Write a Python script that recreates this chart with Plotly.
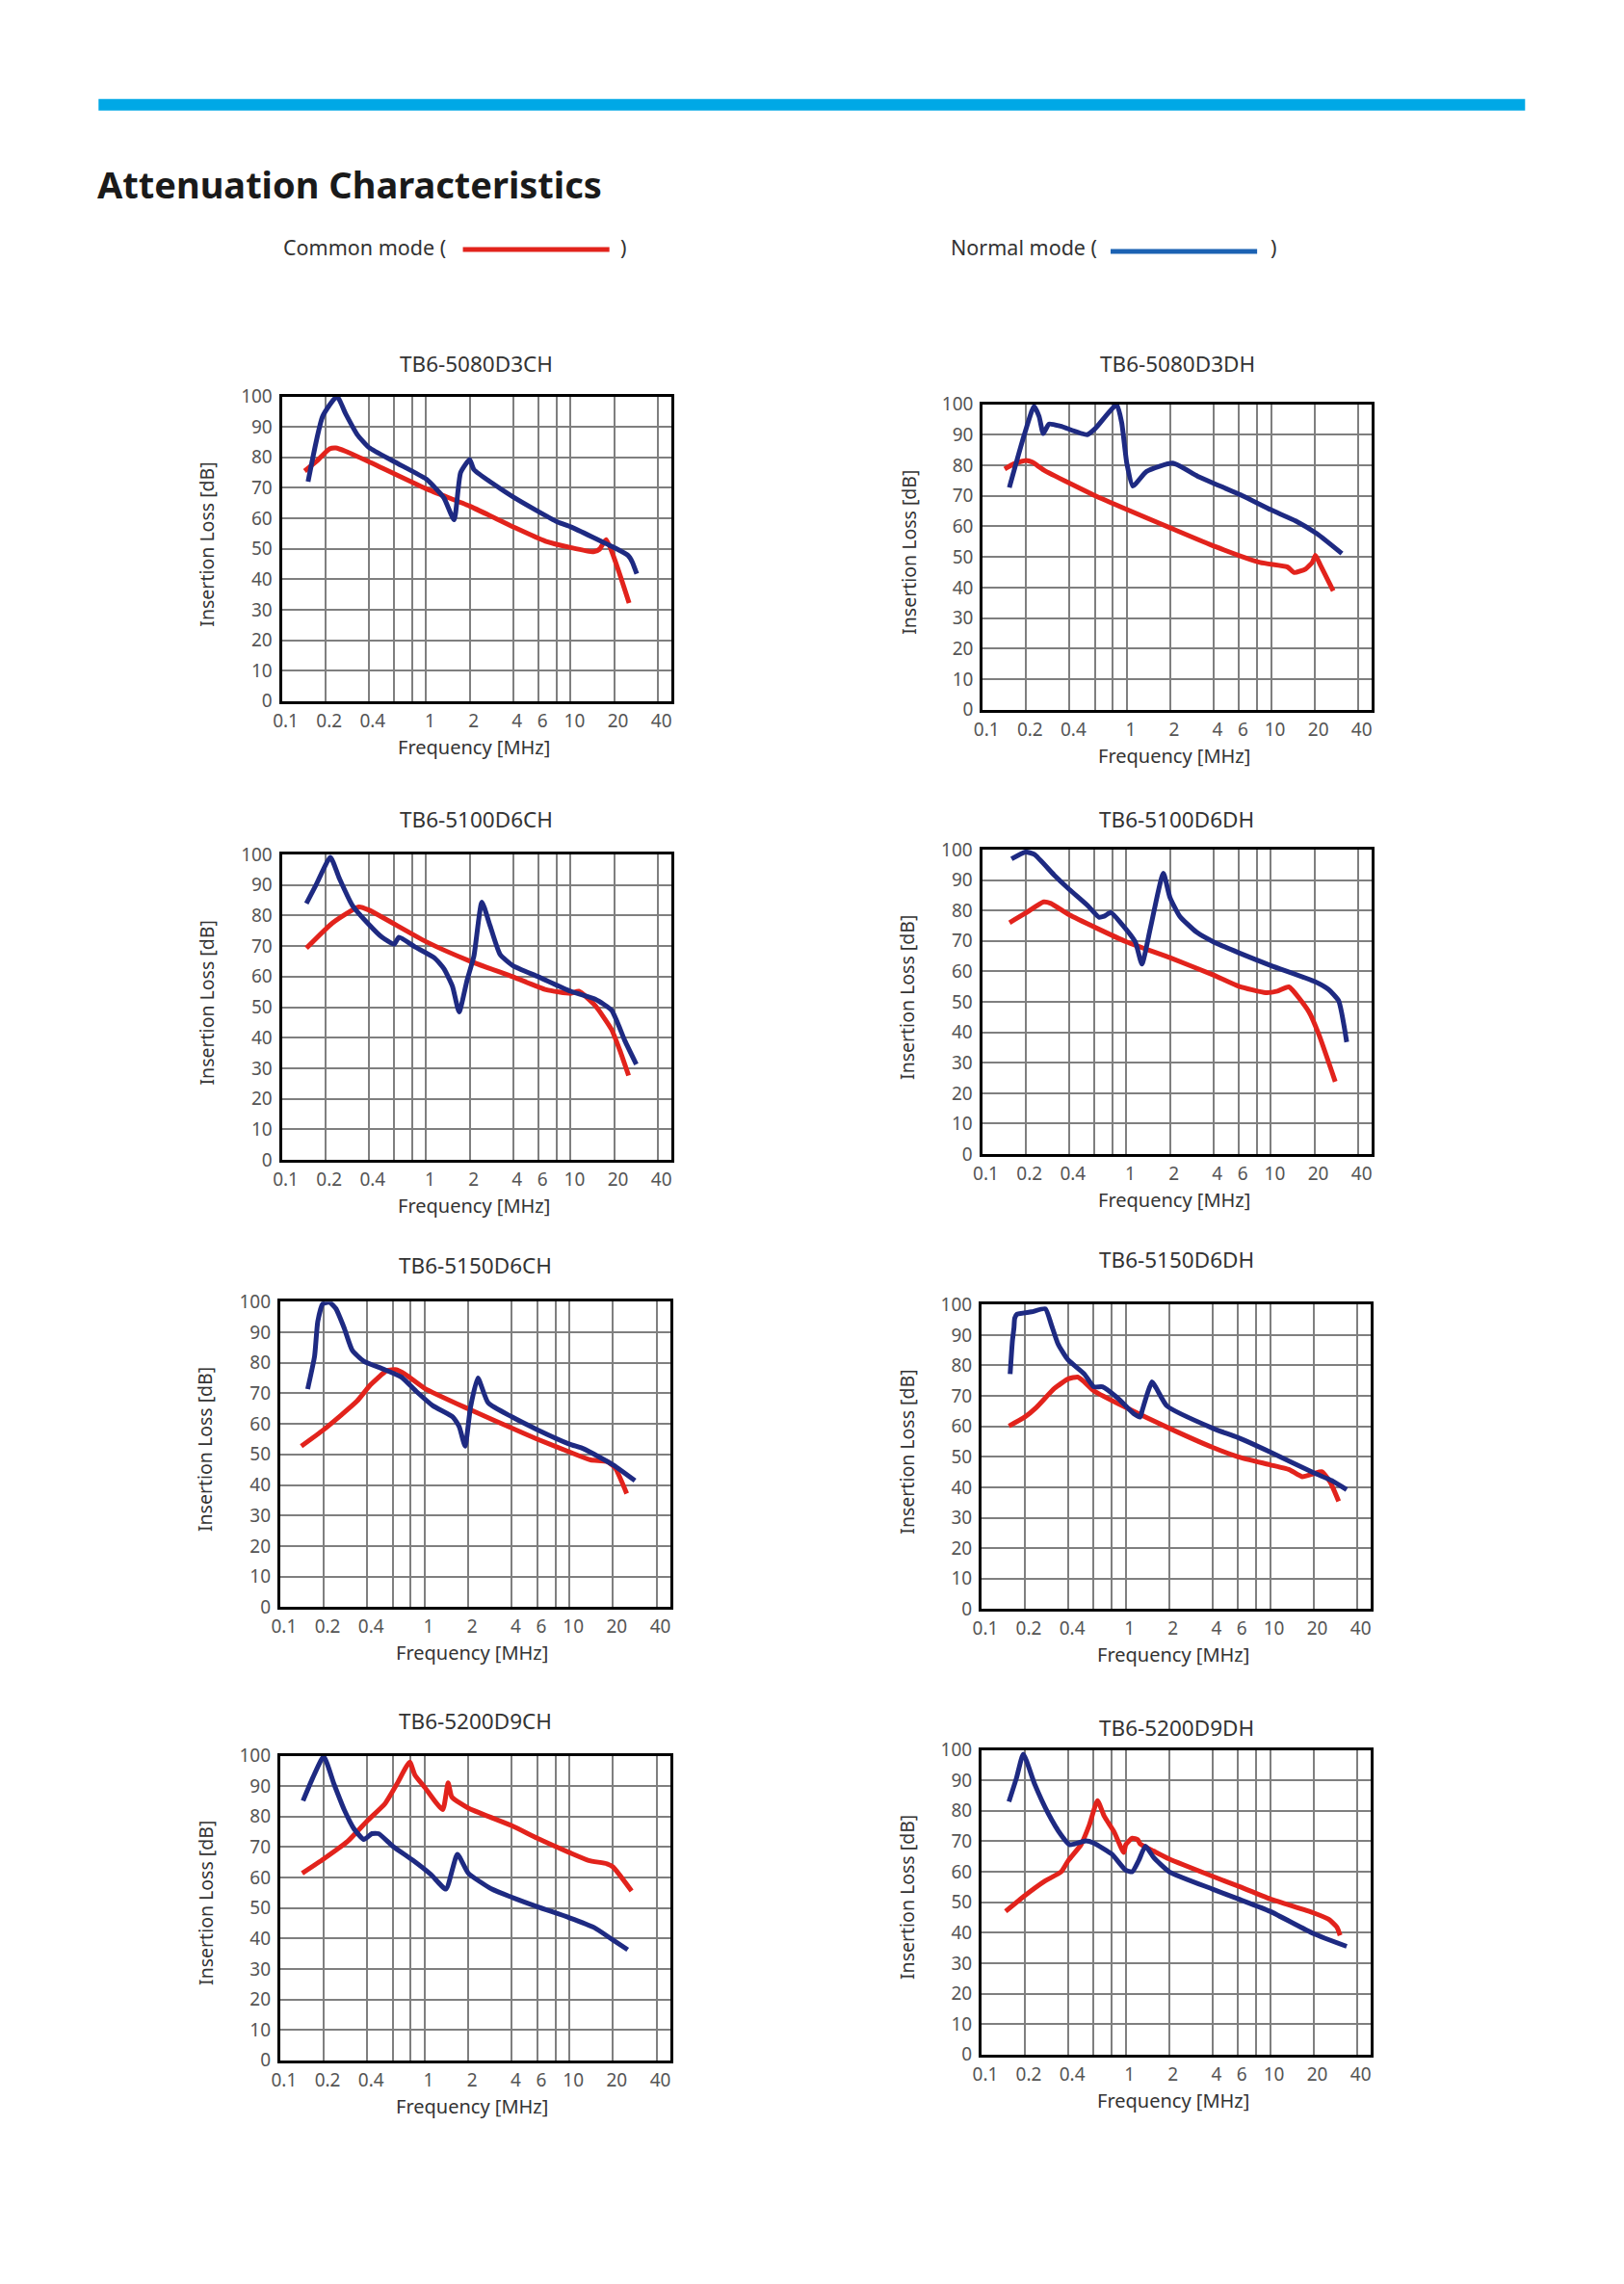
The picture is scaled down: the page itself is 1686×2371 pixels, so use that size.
import math
import plotly.graph_objects as go

BODY = 8                      # default page margin around the plot div
FW, FH = 1600, 2300           # canvas kept smaller than the window so the page never overflows
# measured mapping between requested page position and photographed position
AX, BX = 9.8, 0.9937
AY, BY = 13.31, 0.988

# ---------------- data (frequency MHz, insertion loss dB) ----------------
TITLES = ["TB6-5080D3CH", "TB6-5080D3DH", "TB6-5100D6CH", "TB6-5100D6DH",
          "TB6-5150D6CH", "TB6-5150D6DH", "TB6-5200D9CH", "TB6-5200D9DH"]

# 1: TB6-5080D3CH
C1_BLUE_F = [0.152, 0.192, 0.241, 0.277, 0.333, 0.4, 0.6, 1.0, 1.17, 1.33, 1.56, 1.73, 2.0, 2.14, 4.0, 8.1, 10, 20, 25, 26.7, 28.7]
C1_BLUE_DB = [72, 93.5, 100, 94.3, 87.5, 83.3, 78.6, 72.9, 69.7, 66.6, 59.5, 75, 79.3, 76, 67, 58.8, 57.2, 50.4, 47.8, 45.7, 41.8]
C1_RED_F = [0.144, 0.173, 0.214, 0.237, 0.277, 0.4, 1, 2, 4, 6.7, 10, 14.4, 15.9, 17.6, 25.4]
C1_RED_DB = [75.5, 78.6, 82.8, 83.1, 82, 78.6, 69.7, 64, 57.2, 52.5, 50.4, 49, 49.9, 53, 32.2]

# 2: TB6-5080D3DH
C2_BLUE_F = [0.153, 0.194, 0.227, 0.246, 0.263, 0.288, 0.347, 0.53, 0.603, 0.85, 0.92, 1.0, 1.1, 1.37, 2.08, 3.1, 6.3, 10, 14.8, 20.8, 31]
C2_BLUE_DB = [72.7, 89.9, 99.3, 96, 90.4, 93.5, 92.8, 90, 92, 99.8, 94, 80.5, 73.2, 78, 80.7, 76.4, 70.1, 65.4, 61.8, 57.6, 51.1]
C2_RED_F = [0.142, 0.165, 0.2, 0.221, 0.266, 0.6, 2.08, 4.1, 8.4, 13, 14.5, 17.4, 19.3, 20.3, 21.9, 27]
C2_RED_DB = [78.8, 80.5, 81.6, 81, 78.4, 70.1, 59.2, 53.4, 48.2, 46.7, 44.9, 46.1, 48.2, 50.5, 47.5, 38.9]

# 3: TB6-5100D6CH
C3_BLUE_F = [0.148, 0.173, 0.217, 0.25, 0.308, 0.4, 0.493, 0.6, 0.647, 0.83, 1.14, 1.33, 1.52, 1.69, 1.92, 2.14, 2.43, 2.77, 3.25, 4, 6, 10, 14.8, 19.2, 23.7, 28.5]
C3_BLUE_DB = [83.9, 90.1, 99, 92.2, 83.3, 77.1, 72.9, 70.6, 72.9, 69.8, 66.1, 62.5, 56.8, 48.4, 58.9, 66.7, 84.4, 76.6, 67.2, 63.5, 59.9, 55.2, 52.6, 49, 39.1, 31.3]
C3_RED_F = [0.148, 0.225, 0.342, 0.4, 1, 2, 4, 6.76, 10, 11.4, 14.8, 19.2, 21.9, 25.2]
C3_RED_DB = [69.3, 77.6, 82.8, 81.8, 71.4, 65.1, 59.9, 55.7, 54.5, 55.2, 50.5, 42.7, 35.9, 27.6]

# 4: TB6-5100D6DH
C4_BLUE_F = [0.16, 0.2, 0.23, 0.316, 0.4, 0.536, 0.644, 0.70, 0.78, 0.91, 1.15, 1.28, 1.46, 1.80, 2.0, 2.34, 3.05, 4, 6, 10, 20, 25, 29.4, 33.5]
C4_BLUE_DB = [96.9, 99.2, 98.4, 91.6, 87, 81.7, 77.8, 78.1, 79.3, 76, 69.7, 62.4, 73.9, 92.2, 84.3, 78.1, 72.9, 69.7, 66.1, 61.9, 56.7, 54.1, 50.4, 36.8]
C4_RED_F = [0.155, 0.2, 0.267, 0.30, 0.4, 1, 2, 4, 6, 9.2, 11.1, 13.3, 18.3, 21.4, 27.9]
C4_RED_DB = [76, 79.1, 82.8, 82.3, 78.6, 69.7, 64.5, 58.8, 55.1, 53, 53.5, 54.9, 46.8, 39.5, 23.8]

# 5: TB6-5150D6CH
C5_BLUE_F = [0.155, 0.173, 0.182, 0.197, 0.219, 0.243, 0.277, 0.315, 0.379, 0.519, 0.69, 0.875, 1.14, 1.56, 1.73, 1.90, 2.07, 2.33, 2.74, 4, 6, 10, 12.6, 20, 28.4]
C5_BLUE_DB = [71.4, 82.1, 93.5, 99.3, 99.8, 97.7, 91.4, 84.1, 80.5, 77.9, 75.3, 70.6, 65.9, 62.3, 59.1, 52.7, 65.4, 75, 66.9, 62.3, 58.1, 53.4, 51.8, 46.6, 41.4]
C5_RED_F = [0.14, 0.2, 0.341, 0.42, 0.546, 0.638, 0.728, 1, 2, 4, 6, 10, 14, 18.2, 20.7, 24.9]
C5_RED_DB = [52.7, 58.1, 67.5, 72.7, 77.4, 77.7, 76.3, 71.6, 64.9, 58.6, 55, 50.8, 48.2, 47.7, 45.6, 37.2]

# 6: TB6-5150D6DH
C6_BLUE_F = [0.158, 0.164, 0.168, 0.170, 0.176, 0.222, 0.277, 0.305, 0.339, 0.397, 0.516, 0.6, 0.69, 0.875, 1.14, 1.26, 1.30, 1.52, 1.63, 1.93, 4, 6, 10, 20, 26.8, 34]
C6_BLUE_DB = [77.2, 88.2, 92.4, 95.5, 96.8, 97.6, 98.6, 93.4, 87.1, 81.9, 77.2, 73, 73, 69.4, 64.1, 63.1, 65.2, 74.6, 72.5, 66.7, 59.4, 56.3, 51.6, 44.8, 42.2, 39.2]
C6_RED_F = [0.155, 0.2, 0.24, 0.321, 0.4, 0.464, 0.516, 0.6, 1, 2, 4, 6, 10, 13.6, 16.7, 20.1, 22.9, 26.2, 29.9]
C6_RED_DB = [60.1, 63.1, 66.2, 72.5, 75.6, 76.2, 74.6, 71.7, 66.2, 59.4, 53.1, 50, 47.4, 45.8, 43.5, 44.5, 45.1, 41.6, 35.4]

# 7: TB6-5200D9CH
C7_BLUE_F = [0.144, 0.168, 0.2, 0.236, 0.277, 0.324, 0.379, 0.431, 0.479, 0.6, 0.83, 1.107, 1.40, 1.68, 2, 2.91, 4, 6, 10, 14.8, 20, 25.3]
C7_BLUE_DB = [85.2, 92.7, 99.7, 90.6, 82.3, 76, 72.5, 74.4, 74.4, 70.3, 65.6, 60.9, 56.2, 67.6, 61.4, 56.2, 53.5, 50.4, 46.8, 43.6, 39.5, 36.3]
C7_RED_F = [0.142, 0.2, 0.292, 0.4, 0.532, 0.64, 0.787, 0.853, 1, 1.33, 1.45, 1.54, 2, 4, 6, 10, 13.6, 18.2, 20, 26.9]
C7_RED_DB = [61.4, 66.1, 71.8, 78.6, 84.3, 90.6, 97.9, 93.7, 89.6, 82.3, 91.1, 86.4, 82.8, 77, 72.9, 68.2, 65.6, 64.5, 63.5, 55.6]

# 8: TB6-5200D9DH
C8_BLUE_F = [0.155, 0.175, 0.195, 0.234, 0.289, 0.357, 0.407, 0.44, 0.53, 0.6, 0.8, 1, 1.11, 1.23, 1.37, 1.56, 2, 4, 6, 10, 20, 34]
C8_BLUE_DB = [83, 90.8, 98.6, 88.7, 79.3, 72, 68.9, 69.1, 70.1, 69.4, 65.8, 60.5, 60, 63.7, 68.4, 64.7, 60, 54.3, 51.1, 47, 39.7, 35.5]
C8_RED_F = [0.147, 0.2, 0.274, 0.357, 0.4, 0.49, 0.558, 0.637, 0.708, 0.83, 0.97, 1, 1.11, 1.21, 1.26, 1.56, 2, 4, 6, 10, 20, 25.5, 29.1, 30.6]
C8_RED_DB = [47, 52.2, 56.9, 60, 63.7, 68.9, 75.2, 83.3, 78.3, 73.1, 66.3, 68.9, 71, 70.5, 69.1, 66.8, 64.2, 58.5, 55.3, 51.1, 46.5, 44.4, 41.8, 39.1]

SERIES = [
    (C1_RED_F, C1_RED_DB, C1_BLUE_F, C1_BLUE_DB),
    (C2_RED_F, C2_RED_DB, C2_BLUE_F, C2_BLUE_DB),
    (C3_RED_F, C3_RED_DB, C3_BLUE_F, C3_BLUE_DB),
    (C4_RED_F, C4_RED_DB, C4_BLUE_F, C4_BLUE_DB),
    (C5_RED_F, C5_RED_DB, C5_BLUE_F, C5_BLUE_DB),
    (C6_RED_F, C6_RED_DB, C6_BLUE_F, C6_BLUE_DB),
    (C7_RED_F, C7_RED_DB, C7_BLUE_F, C7_BLUE_DB),
    (C8_RED_F, C8_RED_DB, C8_BLUE_F, C8_BLUE_DB),
]

X_TICKS = [0.1, 0.2, 0.4, 0.6, 0.8, 1, 2, 4, 6, 8, 10, 20, 40]
X_TICKTEXT = ["0.1", "0.2", "0.4", "", "", "1", "2", "4", "6", "", "10", "20", "40"]
Y_TICKS = [0, 10, 20, 30, 40, 50, 60, 70, 80, 90, 100]

# ---------------- layout geometry (target pixels: left, right, top, bottom of frame) ----------------
BOXES = [
    (291.6, 699.0, 410, 729), (1018.8, 1425.5, 418, 738),
    (291.6, 699.0, 885, 1205), (1018.1, 1425.5, 880, 1199),
    (289.9, 697.9, 1349, 1669), (1017.5, 1424.5, 1352, 1671),
    (289.9, 697.9, 1820, 2139), (1017.5, 1424.5, 1814, 2133),
]
TITLE_Y = [377, 377, 850, 850, 1313, 1307, 1785, 1792]
LW = 3  # frame line width

RED = "#e2231c"
NAVY = "#1e2a82"
LEG_BLUE = "#1b62b3"
FONT = "Noto Sans"
TXT = "#333333"


def px(x):
    xp = (x - AX) / BX
    return (xp - BODY) / FW


def py(y):
    yp = (y - AY) / BY
    return 1 - (yp - BODY) / FH


fig = go.Figure()
annotations = []
shapes = []

for i, ((rf, rdb, bf, bdb), (L, R, T, B)) in enumerate(zip(SERIES, BOXES), start=1):
    xa = "x" if i == 1 else f"x{i}"
    ya = "y" if i == 1 else f"y{i}"
    fig.add_trace(go.Scatter(x=rf, y=rdb, mode="lines", xaxis=xa, yaxis=ya,
                             line=dict(color=RED, width=5, shape="spline", smoothing=0.5),
                             showlegend=False, hoverinfo="skip"))
    fig.add_trace(go.Scatter(x=bf, y=bdb, mode="lines", xaxis=xa, yaxis=ya,
                             line=dict(color=NAVY, width=5, shape="spline", smoothing=0.5),
                             showlegend=False, hoverinfo="skip"))
    common = dict(showgrid=True, gridcolor="#7f7f7f", gridwidth=1.5,
                  showline=True, linecolor="black", linewidth=LW, mirror=True,
                  ticks="", zeroline=False, fixedrange=True,
                  tickfont=dict(family=FONT, size=19, color="#555555"))
    h = LW / 2
    fig.update_layout({
        ("xaxis" if i == 1 else f"xaxis{i}"): dict(
            domain=[px(L + h), px(R - h)], anchor=ya, type="log",
            range=[-1, math.log10(50)], tickmode="array",
            tickvals=X_TICKS, ticktext=X_TICKTEXT,
            ticklabelstandoff=1, ticklabelshift=4, **common),
        ("yaxis" if i == 1 else f"yaxis{i}"): dict(
            domain=[py(B - h), py(T + h)], anchor=xa, range=[0, 100],
            tickmode="array", tickvals=Y_TICKS, ticklabelstandoff=3, **common),
    })
    cx = (L + R) / 2
    annotations.append(dict(text=TITLES[i - 1], x=px(cx), y=py(TITLE_Y[i - 1]),
                            xref="paper", yref="paper", showarrow=False,
                            xanchor="center", yanchor="middle",
                            font=dict(family=FONT, size=22.5, color=TXT)))
    annotations.append(dict(text="Frequency [MHz]", x=px(cx - 3), y=py(B + 46),
                            xref="paper", yref="paper", showarrow=False,
                            xanchor="center", yanchor="middle",
                            font=dict(family=FONT, size=20, color=TXT)))
    annotations.append(dict(text="Insertion Loss [dB]", x=px(L - 76), y=py((T + B) / 2 - 5),
                            xref="paper", yref="paper", showarrow=False, textangle=-90,
                            xanchor="center", yanchor="middle",
                            font=dict(family=FONT, size=19.5, color=TXT)))

# header decoration
shapes.append(dict(type="rect", xref="paper", yref="paper",
                   x0=px(103), x1=px(1583), y0=py(115), y1=py(103),
                   fillcolor="#00a8e6", line=dict(width=0)))
annotations.append(dict(text="<b>Attenuation Characteristics</b>", x=px(100), y=py(191),
                        xref="paper", yref="paper", showarrow=False,
                        xanchor="left", yanchor="middle",
                        font=dict(family=FONT, size=38, color="#1a1a1a")))
# legend header
annotations.append(dict(text="Common mode (", x=px(293), y=py(257), xref="paper", yref="paper",
                        showarrow=False, xanchor="left", yanchor="middle",
                        font=dict(family=FONT, size=21.5, color=TXT)))
shapes.append(dict(type="line", xref="paper", yref="paper", x0=px(481), x1=px(633),
                   y0=py(259), y1=py(259), line=dict(color=RED, width=5)))
annotations.append(dict(text=")", x=px(647), y=py(257), xref="paper", yref="paper",
                        showarrow=False, xanchor="center", yanchor="middle",
                        font=dict(family=FONT, size=21.5, color=TXT)))
annotations.append(dict(text="Normal mode (", x=px(985), y=py(257), xref="paper", yref="paper",
                        showarrow=False, xanchor="left", yanchor="middle",
                        font=dict(family=FONT, size=21.5, color=TXT)))
shapes.append(dict(type="line", xref="paper", yref="paper", x0=px(1153), x1=px(1305),
                   y0=py(261), y1=py(261), line=dict(color=LEG_BLUE, width=5)))
annotations.append(dict(text=")", x=px(1322), y=py(257), xref="paper", yref="paper",
                        showarrow=False, xanchor="center", yanchor="middle",
                        font=dict(family=FONT, size=21.5, color=TXT)))

fig.update_layout(width=FW, height=FH, margin=dict(l=0, r=0, t=0, b=0),
                  paper_bgcolor="white", plot_bgcolor="white",
                  annotations=annotations, shapes=shapes, showlegend=False)

fig.write_html("out.html", config={"displayModeBar": False})
